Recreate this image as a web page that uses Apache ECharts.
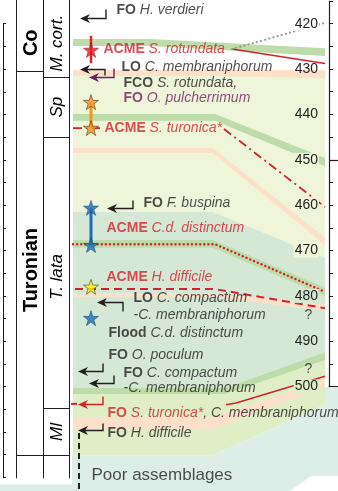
<!DOCTYPE html>
<html>
<head>
<meta charset="utf-8">
<script src="https://cdn.jsdelivr.net/npm/echarts@6/dist/echarts.min.js"></script>
<style>
html,body{margin:0;padding:0;background:#ffffff;}
#chart{width:338px;height:491px;}
</style>
</head>
<body>
<div id="chart"></div>
<script>
// ================= DATA (depths in m) =================
const scaleTicks = [420, 430, 440, 450, 460, 470, 480, 490, 500];
const scaleMajor = 450;                               // long tick on the scale
const uncertainDepths = [484.2, 496.1];               // "?" marks near the scale

const stageNames = ['Co', 'Turonian'];
const stageTop = [418.0, 430.4];
const stageBase = [430.4, 515.1];
const stageLabelDepth = [424.2, 474.3];

const zoneNames = ['M. cort.', 'Sp', 'T. lata', 'Ml'];
const zoneTop = [417.0, 431.75, 445.0, 504.7];
const zoneBase = [431.75, 445.0, 504.7, 515.1];
const zoneLabelDepth = [424.3, 438.4, 475.8, 510.0];
const sectionTop = 414.0;
const sectionBase = 520.2;

// bio-event stars
const starDepth = [425.8, 437.3, 443.0, 460.6, 468.8, 478.0, 484.9];
const starKind = ['red', 'orange', 'orange', 'blue', 'blue', 'yellow', 'blue'];
// star range bars
const rangeTop = [422.7, 437.3, 460.6];
const rangeBase = [428.7, 443.0, 468.8];
const rangeKind = ['red', 'orange', 'blue'];

// FO / LO arrows
const arrowDepth = [418.75, 430.0, 431.75, 460.6, 481.3, 496.5, 499.2, 503.8, 509.6];
const arrowTone = ['dark', 'dark', 'purple', 'dark', 'dark', 'dark', 'dark', 'red', 'dark'];

// event labels
const eventDepth = [417.0, 425.6, 429.5, 433.1, 436.4, 443.0, 459.5, 465.0, 475.8, 480.5, 484.2, 488.2, 493.0, 497.0, 500.3, 505.8, 510.2];
const eventCode = ['FO', 'ACME', 'LO', 'FCO', 'FO', 'ACME', 'FO', 'ACME', 'ACME', 'LO', '', 'Flood', 'FO', 'FO', '', 'FO', 'FO'];
const eventTaxon = ['H. verdieri', 'S. rotundata', 'C. membraniphorum', 'S. rotundata,', 'O. pulcherrimum', 'S. turonica*',
  'F. buspina', 'C.d. distinctum', 'H. difficile', 'C. compactum', '-C. membraniphorum', 'C.d. distinctum', 'O. poculum',
  'C. compactum', '-C. membraniphorum', 'S. turonica*', 'H. difficile'];
const eventTail = ['', '', '', '', '', '', '', '', '', '', '', '', '', '', '', ', C. membraniphorum', ''];
const eventTone = ['dark', 'red', 'dark', 'dark', 'purple', 'red', 'dark', 'red', 'red', 'dark', 'dark', 'dark', 'dark', 'dark', 'dark', 'red', 'dark'];
const poorText = 'Poor assemblages';
const poorDepth = 519.6;
const poorLineTop = 510.2;

// facies background areas: depth of top/base at left and right edge
const faciesKind = ['yellow', 'teal', 'lightgreen', 'bottom', 'bottom'];
const faciesTopL = [430.2, 461.5, 500.3, 515.1, 500.1];
const faciesBaseL = [461.5, 500.3, 515.1, 523.0, 523.0];
const faciesTopR = [430.2, 471.6, 492.4, 504.0, 500.1];
const faciesBaseR = [471.6, 492.4, 504.0, 523.0, 523.0];
const clearTop = 519.7, clearBase = 523.0;

// correlation bands
const bandKind = ['green', 'peach', 'green', 'peach', 'green', 'peach', 'green', 'peach'];
const bandTopL = [423.4, 430.2, 439.9, 447.4, 467.7, 479.4, 500.3, 506.7];
const bandBaseL = [424.9, 431.5, 441.4, 448.5, 469.4, 480.2, 501.6, 509.3];
const bandTopR = [425.4, 430.2, 449.6, 467.2, 478.2, 481.8, 492.4, 498.5];
const bandBaseR = [427.1, 432.0, 451.4, 468.8, 480.0, 483.3, 494.1, 500.0];

// correlation lines (start, kink, end depths)
const corrKind = ['dotRed', 'dashRed', 'dashDotRed', 'dashDotRed', 'solidRed', 'dotGrey', 'solidRed', 'dashRed'];
const corrStart = [468.6, 478.5, 443.0, 443.2, 425.6, 425.6, 504.0, 503.8];
const corrKink = [468.6, 478.5, 443.0, 443.2, 425.6, 425.6, 503.6, 503.8];
const corrEnd = [479.1, 482.7, 443.0, 460.4, 428.8, 419.8, 497.7, 503.8];

// ================= LAYOUT & STYLE =================
const FONT = '"Liberation Sans", Arial, Helvetica, sans-serif';
const C = {
  dark: '#231f20', red: '#d3222a', purple: '#6d1f61',
  green: '#bddca9', peach: '#fde0c9', yellow: '#eff5d9', teal: '#d5e8d5',
  lightgreen: '#e0eec6', bottom: '#ddeee8', grey: '#9a9a9a'
};
const STAR_COL = {
  red: ['#ec1c24', '#6a1010', 0.6], orange: ['#f7941d', '#5a3d12', 0.8],
  blue: ['#1a6db6', '#0f3d6b', 0.6], yellow: ['#fff200', '#4a4a2a', 0.8]
};
const RANGE_COL = { red: '#ec1c24', orange: '#f7941d', blue: '#1a6db6' };
const STAR = 'path://M50,0 L61.8,35.4 L99,35.4 L69,57.3 L80.3,92.7 L50,70.8 L19.7,92.7 L31,57.3 L1,35.4 L38.2,35.4 Z';

const PX0 = 73, PX1 = 325, STAR_X = 91;
const faciesX0 = [PX0, PX0, PX0, 0, 325];
const faciesX1 = [PX1, PX1, PX1, PX1, 338];
const faciesKinkTop = [200, 213, 225, 213, 325];
const faciesKinkBase = [213, 225, 213, 213, 325];
const bandKink = [150, 200, 215, 213, 213, 213, 225, 213];
const corrX0 = [73, 75, 73, 224, 232, 232, 226, 71];
const corrXk = [215, 215, 100, 224, 232, 232, 236, 77];
const corrX1 = [325, 325, 100, 325, 325, 325, 325, 77];
const CORR_STYLE = {
  dotRed: { stroke: C.red, lineWidth: 2.4, lineDash: [0.1, 4], lineCap: 'round' },
  dashRed: { stroke: C.red, lineWidth: 2, lineDash: [8, 5] },
  dashDotRed: { stroke: C.red, lineWidth: 1.8, lineDash: [9, 4, 2, 4] },
  solidRed: { stroke: C.red, lineWidth: 1.5 },
  dotGrey: { stroke: C.grey, lineWidth: 2.2, lineDash: [0.1, 4.2], lineCap: 'round' }
};
const arrowTipX = [80, 80, 89, 107, 97, 78, 89, 78, 78];
const arrowEndX = [106, 105, 114, 133, 123, 103, 114, 103, 103];
const arrowStub = [-9, 6, -9, -8, 9, -8, -8, -8, -7];
const labelX = [116, 103, 121, 123, 123, 104, 143, 106, 106, 133, 133, 108, 108, 123, 123, 107, 107];
const stageX = [16.5, 43.5], zoneX = [43.5, 69.5], colLines = [16.5, 43.5, 69.5];
const scaleBg = { 420: '#ffffff', 430: 'transparent', 440: C.yellow, 450: C.yellow, 460: C.yellow, 470: C.yellow, 480: C.teal, 490: C.teal, 500: C.lightgreen };

// ================= CHART =================
const chart = echarts.init(document.getElementById('chart'), null, { renderer: 'canvas' });
const idx = n => Array.from({ length: n }, (_, i) => [i]);

function custom(name, n, z, render) {
  return { type: 'custom', name, xAxisIndex: 0, yAxisIndex: 0, z, silent: true, clip: false, data: idx(n), renderItem: render };
}

const rich = {};
['dark', 'red', 'purple'].forEach(t => {
  rich['b' + t] = { fontFamily: FONT, fontSize: 14, fontWeight: 'bold', color: C[t] };
  rich['i' + t] = { fontFamily: FONT, fontSize: 14, fontStyle: 'italic', color: C[t] };
});
function eventLabel(i) {
  const t = eventTone[i];
  let s = '';
  if (eventCode[i]) s += '{b' + t + '|' + eventCode[i] + '} ';
  s += '{i' + t + '|' + eventTaxon[i] + '}';
  if (eventTail[i]) s += '{idark|' + eventTail[i] + '}';
  return s;
}
const scaleRich = {};
scaleTicks.forEach(v => {
  scaleRich['s' + v] = { fontFamily: FONT, fontSize: 14, color: C.dark, backgroundColor: scaleBg[v], padding: [0, 1] };
});

const option = {
  animation: false,
  backgroundColor: '#ffffff',
  grid: [
    { left: 0, right: 0, top: 1, bottom: 0, containLabel: false, outerBoundsMode: 'none' },
    { left: 329, width: 9, top: 1, height: 385.6, containLabel: false, outerBoundsMode: 'none' },
    { left: 3, width: 4, top: 23.7, height: 453.7, containLabel: false, outerBoundsMode: 'none' }
  ],
  xAxis: [
    { gridIndex: 0, type: 'value', min: 0, max: 338, show: false },
    { gridIndex: 1, type: 'value', min: 0, max: 1, position: 'bottom', z: 30,
      axisLine: { show: true, onZero: false, lineStyle: { color: C.dark, width: 1.2 } },
      axisTick: { show: false }, axisLabel: { show: false }, splitLine: { show: false } },
    { gridIndex: 2, type: 'value', min: 0, max: 1, show: false }
  ],
  yAxis: [
    { gridIndex: 0, type: 'value', min: 415, max: 523, inverse: true, show: false },
    { gridIndex: 1, type: 'value', min: 415, max: 500, interval: 5, inverse: true, position: 'left', z: 30,
      axisLine: { show: true, onZero: false, lineStyle: { color: C.dark, width: 1.2 } },
      axisTick: { show: true, inside: true, length: 4, lineStyle: { color: C.dark, width: 1 } },
      splitLine: { show: false },
      axisLabel: { show: true, margin: 10, rich: scaleRich, showMinLabel: true, showMaxLabel: true, hideOverlap: false,
        formatter: v => (scaleTicks.indexOf(Math.round(v)) >= 0 ? '{s' + Math.round(v) + '|' + Math.round(v) + '}' : '') } },
    { gridIndex: 2, type: 'value', min: 420, max: 520, interval: 5, inverse: true, position: 'left', z: 30,
      axisLine: { show: true, onZero: false, lineStyle: { color: C.dark, width: 1 } },
      axisTick: { show: true, inside: true, length: 3, lineStyle: { color: C.dark, width: 1 } },
      axisLabel: { show: false }, splitLine: { show: false } }
  ],
  series: [
    // facies backgrounds
    custom('facies', faciesKind.length, 1, (p, api) => {
      const i = p.dataIndex;
      const pts = [
        api.coord([faciesX0[i], faciesTopL[i]]), api.coord([faciesKinkTop[i], faciesTopL[i]]),
        api.coord([faciesX1[i], faciesTopR[i]]), api.coord([faciesX1[i], faciesBaseR[i]]),
        api.coord([faciesKinkBase[i], faciesBaseL[i]]), api.coord([faciesX0[i], faciesBaseL[i]])
      ];
      return { type: 'polygon', shape: { points: pts }, style: { fill: C[faciesKind[i]] } };
    }),
    // white corner patch at the bottom right
    custom('clear', 1, 2, (p, api) => ({
      type: 'polygon',
      shape: { points: [api.coord([311, clearTop]), api.coord([338, clearTop]), api.coord([338, clearBase]), api.coord([290, clearBase])] },
      style: { fill: '#ffffff' }
    })),
    // correlation bands
    custom('bands', bandKind.length, 3, (p, api) => {
      const i = p.dataIndex;
      const pts = [
        api.coord([PX0, bandTopL[i]]), api.coord([bandKink[i], bandTopL[i]]),
        api.coord([PX1, bandTopR[i]]), api.coord([PX1, bandBaseR[i]]),
        api.coord([bandKink[i], bandBaseL[i]]), api.coord([PX0, bandBaseL[i]])
      ];
      return { type: 'polygon', shape: { points: pts }, style: { fill: C[bandKind[i]] } };
    }),
    // white column panel
    custom('panel', 1, 4, (p, api) => {
      const a = api.coord([0, 414]), b = api.coord([72, 521.5]);
      return { type: 'rect', shape: { x: a[0], y: a[1], width: b[0] - a[0], height: b[1] - a[1] }, style: { fill: '#ffffff' } };
    }),
    // column vertical lines
    custom('columns', colLines.length, 5, (p, api) => {
      const a = api.coord([colLines[p.dataIndex], sectionTop]), b = api.coord([colLines[p.dataIndex], sectionBase]);
      return { type: 'line', shape: { x1: a[0], y1: a[1], x2: b[0], y2: b[1] }, style: { stroke: C.dark, lineWidth: 1 } };
    }),
    // stages
    custom('stages', stageNames.length, 5, (p, api) => {
      const i = p.dataIndex;
      const a = api.coord([stageX[0], stageBase[i]]), b = api.coord([stageX[1], stageBase[i]]);
      const c = api.coord([(stageX[0] + stageX[1]) / 2, stageLabelDepth[i]]);
      return { type: 'group', children: [
        { type: 'line', shape: { x1: a[0], y1: Math.round(a[1]) + 0.5, x2: b[0], y2: Math.round(a[1]) + 0.5 }, style: { stroke: C.dark, lineWidth: 1 } },
        { type: 'text', x: c[0] + 1, y: c[1], rotation: Math.PI / 2,
          style: { text: stageNames[i], fill: '#000', fontFamily: FONT, fontSize: 20, fontWeight: 'bold', align: 'center', verticalAlign: 'middle' } }
      ] };
    }),
    // zones
    custom('zones', zoneNames.length, 5, (p, api) => {
      const i = p.dataIndex;
      const a = api.coord([zoneX[0], zoneBase[i]]), b = api.coord([zoneX[1], zoneBase[i]]);
      const c = api.coord([(zoneX[0] + zoneX[1]) / 2, zoneLabelDepth[i]]);
      return { type: 'group', children: [
        { type: 'line', shape: { x1: a[0], y1: Math.round(a[1]) + 0.5, x2: b[0], y2: Math.round(a[1]) + 0.5 }, style: { stroke: C.dark, lineWidth: 1 } },
        { type: 'text', x: c[0] + 1, y: c[1], rotation: Math.PI / 2,
          style: { text: zoneNames[i], fill: '#000', fontFamily: FONT, fontSize: 17, fontStyle: 'italic', align: 'center', verticalAlign: 'middle' } }
      ] };
    }),
    // correlation lines
    custom('corr', corrKind.length, 6, (p, api) => {
      const i = p.dataIndex;
      return { type: 'polyline',
        shape: { points: [api.coord([corrX0[i], corrStart[i]]), api.coord([corrXk[i], corrKink[i]]), api.coord([corrX1[i], corrEnd[i]])] },
        style: Object.assign({ fill: null }, CORR_STYLE[corrKind[i]]) };
    }),
    // long scale tick
    custom('majorTick', 1, 31, (p, api) => {
      const a = api.coord([329, scaleMajor]), b = api.coord([338, scaleMajor]);
      const y = Math.round(a[1]) + 0.5;
      return { type: 'line', shape: { x1: a[0], y1: y, x2: b[0], y2: y }, style: { stroke: C.dark, lineWidth: 1.2 } };
    }),
    // poor assemblages dashed line
    custom('poorLine', 1, 6, (p, api) => {
      const a = api.coord([79, poorLineTop]), b = api.coord([79, 523]);
      return { type: 'line', shape: { x1: a[0], y1: a[1], x2: b[0], y2: b[1] }, style: { stroke: C.dark, lineWidth: 2, lineDash: [6, 4] } };
    }),
    // range bars
    custom('ranges', rangeKind.length, 7, (p, api) => {
      const i = p.dataIndex;
      const a = api.coord([STAR_X, rangeTop[i]]), b = api.coord([STAR_X, rangeBase[i]]);
      return { type: 'line', shape: { x1: a[0], y1: a[1], x2: b[0], y2: b[1] }, style: { stroke: RANGE_COL[rangeKind[i]], lineWidth: rangeKind[i] === 'red' ? 2.5 : 3 } };
    }),
    // arrows
    custom('arrows', arrowDepth.length, 8, (p, api) => {
      const i = p.dataIndex;
      const col = C[arrowTone[i]];
      const t = api.coord([arrowTipX[i], arrowDepth[i]]), e = api.coord([arrowEndX[i], arrowDepth[i]]);
      const y = Math.round(t[1]) + 0.5;
      return { type: 'group', children: [
        { type: 'polyline', shape: { points: [[t[0] + 5, y], [e[0], y], [e[0], y + arrowStub[i]]] }, style: { stroke: col, lineWidth: 1.4, fill: null } },
        { type: 'polygon', shape: { points: [[t[0], y], [t[0] + 10, y - 4.5], [t[0] + 7, y], [t[0] + 10, y + 4.5]] }, style: { fill: col } }
      ] };
    }),
    // stars
    {
      type: 'scatter', xAxisIndex: 0, yAxisIndex: 0, z: 9, silent: true,
      symbol: STAR, symbolSize: 15,
      data: starDepth.map((d, i) => ({
        value: [STAR_X, d],
        itemStyle: { color: STAR_COL[starKind[i]][0], borderColor: STAR_COL[starKind[i]][1], borderWidth: STAR_COL[starKind[i]][2] }
      }))
    },
    // event labels
    {
      type: 'scatter', xAxisIndex: 0, yAxisIndex: 0, z: 10, silent: true,
      symbolSize: 1, itemStyle: { color: 'rgba(0,0,0,0)' },
      data: eventDepth.map((d, i) => [labelX[i], d]),
      label: { show: true, position: 'right', distance: 0, fontFamily: FONT, fontSize: 14, color: C.dark,
        formatter: p => eventLabel(p.dataIndex), rich }
    },
    // uncertainty marks and poor assemblage label
    {
      type: 'scatter', xAxisIndex: 0, yAxisIndex: 0, z: 10, silent: true,
      symbolSize: 1, itemStyle: { color: 'rgba(0,0,0,0)' },
      data: uncertainDepths.map(d => [304, d]),
      label: { show: true, position: 'right', distance: 0, fontFamily: FONT, fontSize: 14, color: C.dark, formatter: '?' }
    },
    {
      type: 'scatter', xAxisIndex: 0, yAxisIndex: 0, z: 10, silent: true,
      symbolSize: 1, itemStyle: { color: 'rgba(0,0,0,0)' },
      data: [[91, poorDepth]],
      label: { show: true, position: 'right', distance: 0, fontFamily: FONT, fontSize: 17, color: C.dark, formatter: poorText }
    }
  ]
};
chart.setOption(option);
</script>
</body>
</html>
